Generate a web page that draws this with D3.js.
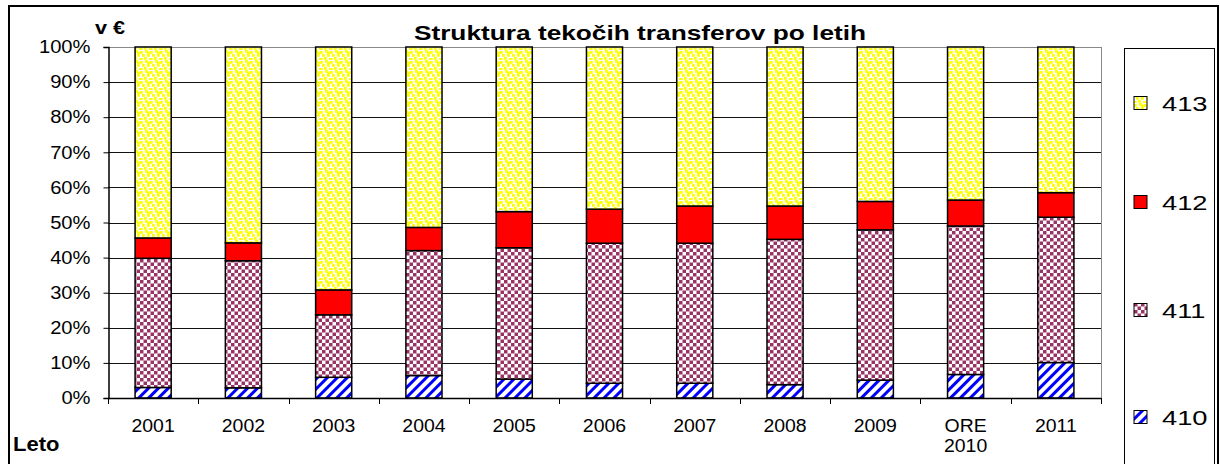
<!DOCTYPE html>
<html>
<head>
<meta charset="utf-8">
<script src="https://cdn.jsdelivr.net/npm/d3@7"></script>
<style>
  body { margin: 0; background: #fff; }
  svg { display: block; font-family: Arial, "Liberation Sans", sans-serif; }
</style>
</head>
<body>
<svg id="chart" width="1220" height="464"></svg>
<script>
// categories and shares (in %)
const years = ['2001', '2002', '2003', '2004', '2005', '2006', '2007', '2008', '2009', 'ORE 2010', '2011'];
const s410 = [3.0, 2.9, 5.9, 6.4, 5.4, 4.2, 4.2, 3.8, 5.1, 6.7, 10.1];
const s411 = [36.8, 36.2, 17.8, 35.6, 37.4, 39.9, 39.9, 41.4, 42.8, 42.3, 41.4];
const s412 = [5.8, 5.1, 7.1, 6.6, 10.3, 9.7, 10.6, 9.5, 8.1, 7.4, 7.0];
const s413 = [54.4, 55.8, 69.2, 51.4, 46.9, 46.2, 45.3, 45.3, 44.0, 43.6, 41.5];
const seriesKeys = ['410', '411', '412', '413'];
const yTicks = [0, 0.1, 0.2, 0.3, 0.4, 0.5, 0.6, 0.7, 0.8, 0.9, 1];

const rows = years.map((y, i) => ({year: y, '410': s410[i], '411': s411[i], '412': s412[i], '413': s413[i]}));

const svg = d3.select('#chart');
const plot = {left: 108, right: 1101, top: 47, bottom: 398};

// the reference text is a bit wider than plain Arial
const stretch = (sel, k) => sel.each(function() {
    const w = this.getComputedTextLength();
    d3.select(this).attr('textLength', w * k).attr('lengthAdjust', 'spacingAndGlyphs');
});

// patterns
const defs = svg.append('defs');
const dots = defs.append('pattern').attr('id', 'p413')
    .attr('patternUnits', 'userSpaceOnUse').attr('width', 10).attr('height', 10);
dots.append('rect').attr('width', 10).attr('height', 10).attr('fill', '#fff');
[[0, 1], [5, 0], [2, 4], [7, 4], [4, 7], [9, 8], [0, 8], [7, 1.5]].forEach(([x, y]) => {
    dots.append('rect').attr('x', x).attr('y', y).attr('width', 2.8).attr('height', 2.8).attr('fill', '#ffff00');
});

const checks = defs.append('pattern').attr('id', 'p411')
    .attr('patternUnits', 'userSpaceOnUse').attr('width', 7).attr('height', 7);
checks.append('rect').attr('width', 7).attr('height', 7).attr('fill', '#fff');
checks.append('rect').attr('x', 0).attr('y', 0).attr('width', 3.5).attr('height', 3.5).attr('fill', '#993366');
checks.append('rect').attr('x', 3.5).attr('y', 3.5).attr('width', 3.5).attr('height', 3.5).attr('fill', '#993366');

const stripes = defs.append('pattern').attr('id', 'p410')
    .attr('patternUnits', 'userSpaceOnUse').attr('width', 7).attr('height', 7)
    .attr('patternTransform', 'rotate(45)');
stripes.append('rect').attr('width', 7).attr('height', 7).attr('fill', '#fff');
stripes.append('rect').attr('x', 0).attr('width', 3).attr('height', 7).attr('fill', '#0000ff');

const fills = {'410': 'url(#p410)', '411': 'url(#p411)', '412': '#ff0000', '413': 'url(#p413)'};

// outer frame and legend frame
svg.append('rect').attr('x', 9).attr('y', 6).attr('width', 1209).attr('height', 470)
    .attr('fill', 'none').attr('stroke', '#000').attr('stroke-width', 2);
svg.append('rect').attr('x', 1124.5).attr('y', 48.5).attr('width', 90).attr('height', 430)
    .attr('fill', 'none').attr('stroke', '#000').attr('stroke-width', 1);

const x = d3.scaleBand().domain(years).range([plot.left, plot.right])
    .paddingInner(0.6).paddingOuter(0.3);
const y = d3.scaleLinear().domain([0, 1]).range([plot.bottom, plot.top]);

// gridlines
svg.append('g').selectAll('line').data(yTicks.slice(1)).join('line')
    .attr('x1', plot.left).attr('x2', plot.right)
    .attr('y1', d => Math.round(y(d)) + 0.5).attr('y2', d => Math.round(y(d)) + 0.5)
    .attr('stroke', d => d === 1 ? '#888' : '#111').attr('stroke-width', 1);
svg.append('line').attr('x1', plot.right + 0.5).attr('x2', plot.right + 0.5)
    .attr('y1', plot.top).attr('y2', plot.bottom).attr('stroke', '#888');

// stacked bars
const stack = d3.stack().keys(seriesKeys).offset(d3.stackOffsetExpand);
const layers = stack(rows);
svg.append('g').selectAll('g').data(layers).join('g')
    .attr('fill', d => fills[d.key])
    .selectAll('rect').data(d => d).join('rect')
    .attr('x', d => x(d.data.year))
    .attr('width', x.bandwidth())
    .attr('y', d => y(d[1]))
    .attr('height', d => y(d[0]) - y(d[1]))
    .attr('stroke', '#000').attr('stroke-width', 1.5);

// y axis
const yAxis = svg.append('g').attr('transform', `translate(${plot.left + 0.5},0)`)
    .call(d3.axisLeft(y).tickValues(yTicks).tickFormat(d3.format('.0%')).tickSize(5).tickPadding(13));
yAxis.select('.domain').attr('stroke', '#000').attr('stroke-width', 1.5);
yAxis.selectAll('.tick line').attr('stroke', '#000');
yAxis.selectAll('text').attr('font-size', 18).attr('fill', '#000').call(stretch, 1.12);

// x axis
const bounds = d3.range(years.length + 1).map(i => plot.left + i * x.step());
svg.append('line').attr('x1', plot.left).attr('x2', plot.right)
    .attr('y1', plot.bottom + 0.5).attr('y2', plot.bottom + 0.5).attr('stroke', '#000').attr('stroke-width', 1.5);
svg.append('g').selectAll('line').data(bounds).join('line')
    .attr('x1', d => Math.round(d) + 0.5).attr('x2', d => Math.round(d) + 0.5)
    .attr('y1', plot.bottom).attr('y2', plot.bottom + 6).attr('stroke', '#000');
const xl = svg.append('g').selectAll('text').data(years).join('text')
    .attr('x', d => x(d) + x.bandwidth() / 2)
    .attr('y', 432)
    .attr('text-anchor', 'middle').attr('font-size', 18).attr('fill', '#000');
xl.each(function(d) {
    const parts = d.split(' ');
    d3.select(this).selectAll('tspan').data(parts).join('tspan')
        .attr('x', x(d) + x.bandwidth() / 2)
        .attr('dy', (p, i) => i === 0 ? 0 : 20)
        .text(p => p)
        .call(stretch, 1.08);
});

// titles
svg.append('text').attr('x', 640).attr('y', 40).attr('text-anchor', 'middle')
    .attr('font-size', 21).attr('font-weight', 'bold').text('Struktura tekočih transferov po letih')
    .call(stretch, 1.25);
svg.append('text').attr('x', 95).attr('y', 34)
    .attr('font-size', 18).attr('font-weight', 'bold').text('v  €')
    .call(stretch, 1.2);
svg.append('text').attr('x', 13).attr('y', 451)
    .attr('font-size', 20).attr('font-weight', 'bold').text('Leto')
    .call(stretch, 1.1);

// legend
const legendY = {'413': 103, '412': 202, '411': 310, '410': 417};
const leg = svg.append('g').selectAll('g').data(seriesKeys).join('g')
    .attr('transform', d => `translate(1134,${legendY[d]})`);
leg.append('rect').attr('x', 0).attr('y', -6.5).attr('width', 13).attr('height', 13)
    .attr('fill', d => fills[d]).attr('stroke', '#000').attr('stroke-width', 1);
leg.append('text').attr('x', 28).attr('y', 8).attr('font-size', 21).attr('fill', '#000')
    .text(d => d).call(stretch, 1.3);
</script>
</body>
</html>
